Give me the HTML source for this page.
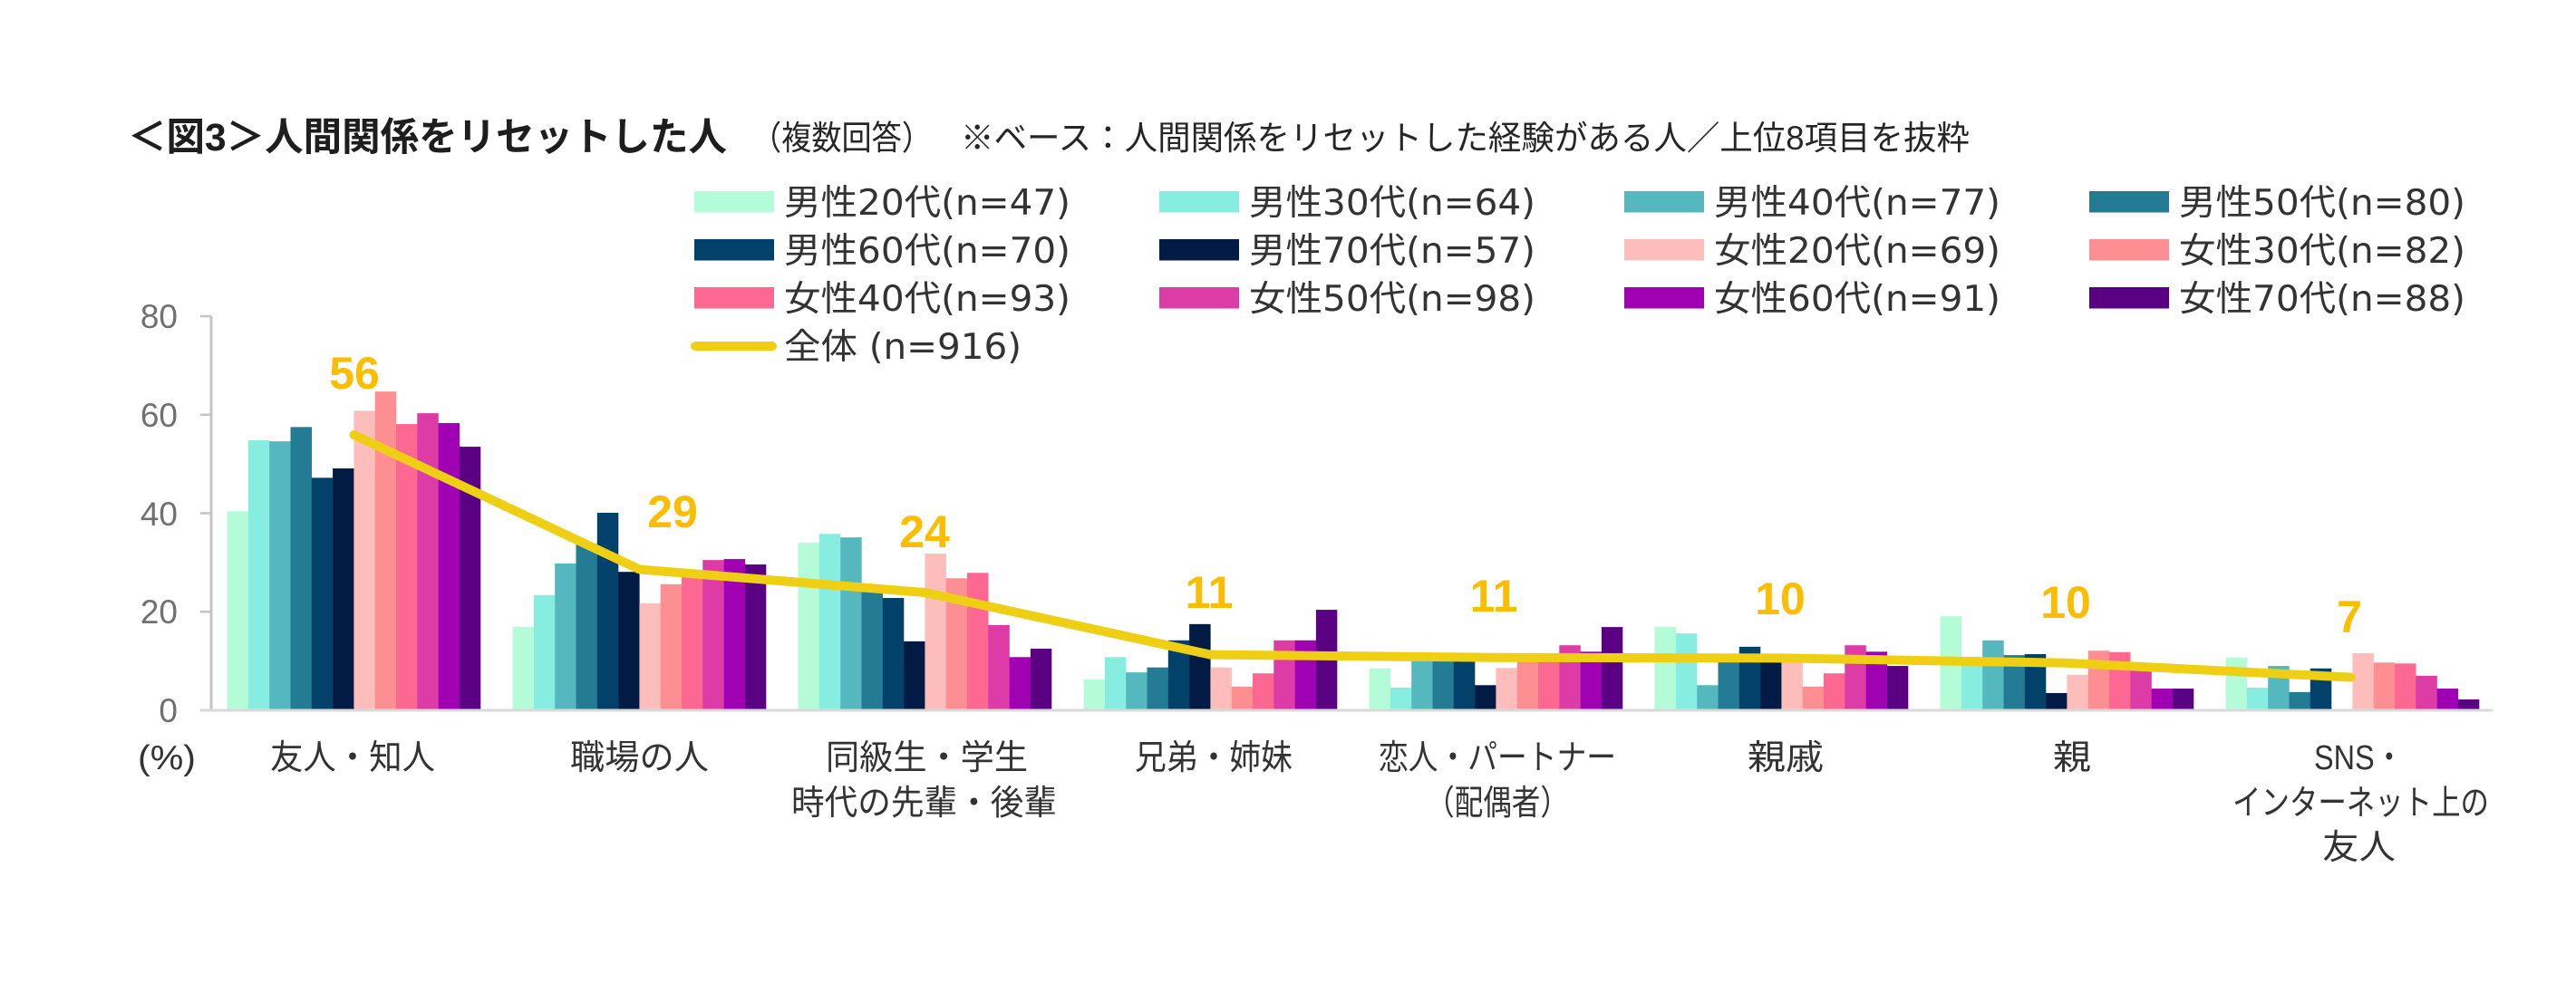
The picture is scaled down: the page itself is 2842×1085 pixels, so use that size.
<!DOCTYPE html>
<html lang="ja">
<head>
<meta charset="utf-8">
<style>
  html,body{margin:0;padding:0;background:#fff;}
  svg{display:block;}
  .c1{fill:#b4fcd8}.c2{fill:#87ede1}.c3{fill:#55b8bf}.c4{fill:#237c93}
  .c5{fill:#02416a}.c6{fill:#011b44}.c7{fill:#fdbdbb}.c8{fill:#fd8f92}
  .c9{fill:#fd6892}.c10{fill:#dd3ca6}.c11{fill:#a002b3}.c12{fill:#590083}
  .leg{font-family:"DejaVu Sans","Noto Sans CJK JP",sans-serif;font-size:39px;fill:#333;}
  .ax{font-family:"Liberation Sans","Noto Sans CJK JP",sans-serif;font-size:38px;fill:#333;}
  .tick{font-family:"Liberation Sans","Noto Sans CJK JP",sans-serif;font-size:37px;fill:#707070;}
  .lab{font-family:"Liberation Sans","Noto Sans CJK JP",sans-serif;font-size:50px;font-weight:bold;fill:#fbbd00;}
  .t1{font-family:"Liberation Sans","Noto Sans CJK JP",sans-serif;font-size:43px;font-weight:bold;fill:#1e1e1e;}
  .t2{font-family:"Liberation Sans","Noto Sans CJK JP",sans-serif;font-size:37px;fill:#262626;}
</style>
</head>
<body>
<svg width="2842" height="1085" viewBox="0 0 2842 1085" xmlns="http://www.w3.org/2000/svg">
  <rect x="0" y="0" width="2842" height="1085" fill="#fff"/>

  <!-- Title -->
  <text class="t1" x="141" y="166" textLength="661" lengthAdjust="spacingAndGlyphs">＜図3＞人間関係をリセットした人</text>
  <text class="t2" x="829" y="165" textLength="199" lengthAdjust="spacingAndGlyphs">（複数回答）</text>
  <text class="t2" x="1060" y="165" textLength="1113" lengthAdjust="spacingAndGlyphs">※ベース：人間関係をリセットした経験がある人／上位8項目を抜粋</text>

  <!-- Legend -->
  <rect class="c1" x="766" y="211" width="88" height="23.5"/>
  <text class="leg" x="865" y="237" textLength="316" lengthAdjust="spacingAndGlyphs">男性20代(n=47)</text>
  <rect class="c2" x="1279" y="211" width="88" height="23.5"/>
  <text class="leg" x="1378" y="237" textLength="316" lengthAdjust="spacingAndGlyphs">男性30代(n=64)</text>
  <rect class="c3" x="1792" y="211" width="88" height="23.5"/>
  <text class="leg" x="1891" y="237" textLength="316" lengthAdjust="spacingAndGlyphs">男性40代(n=77)</text>
  <rect class="c4" x="2305" y="211" width="88" height="23.5"/>
  <text class="leg" x="2404" y="237" textLength="316" lengthAdjust="spacingAndGlyphs">男性50代(n=80)</text>

  <rect class="c5" x="766" y="264" width="88" height="23.5"/>
  <text class="leg" x="865" y="290" textLength="316" lengthAdjust="spacingAndGlyphs">男性60代(n=70)</text>
  <rect class="c6" x="1279" y="264" width="88" height="23.5"/>
  <text class="leg" x="1378" y="290" textLength="316" lengthAdjust="spacingAndGlyphs">男性70代(n=57)</text>
  <rect class="c7" x="1792" y="264" width="88" height="23.5"/>
  <text class="leg" x="1891" y="290" textLength="316" lengthAdjust="spacingAndGlyphs">女性20代(n=69)</text>
  <rect class="c8" x="2305" y="264" width="88" height="23.5"/>
  <text class="leg" x="2404" y="290" textLength="316" lengthAdjust="spacingAndGlyphs">女性30代(n=82)</text>

  <rect class="c9" x="766" y="317" width="88" height="23.5"/>
  <text class="leg" x="865" y="343" textLength="316" lengthAdjust="spacingAndGlyphs">女性40代(n=93)</text>
  <rect class="c10" x="1279" y="317" width="88" height="23.5"/>
  <text class="leg" x="1378" y="343" textLength="316" lengthAdjust="spacingAndGlyphs">女性50代(n=98)</text>
  <rect class="c11" x="1792" y="317" width="88" height="23.5"/>
  <text class="leg" x="1891" y="343" textLength="316" lengthAdjust="spacingAndGlyphs">女性60代(n=91)</text>
  <rect class="c12" x="2305" y="317" width="88" height="23.5"/>
  <text class="leg" x="2404" y="343" textLength="316" lengthAdjust="spacingAndGlyphs">女性70代(n=88)</text>

  <line x1="767" y1="382" x2="852" y2="382" stroke="#efcf14" stroke-width="10" stroke-linecap="round"/>
  <text class="leg" x="865" y="396" textLength="262" lengthAdjust="spacingAndGlyphs">全体 (n=916)</text>

  <!-- Y axis -->
  <line x1="233" y1="349" x2="233" y2="784" stroke="#c4c4c4" stroke-width="3"/>
  <line x1="221" y1="349" x2="233" y2="349" stroke="#c4c4c4" stroke-width="2.5"/>
  <line x1="221" y1="457.75" x2="233" y2="457.75" stroke="#c4c4c4" stroke-width="2.5"/>
  <line x1="221" y1="566.5" x2="233" y2="566.5" stroke="#c4c4c4" stroke-width="2.5"/>
  <line x1="221" y1="675.25" x2="233" y2="675.25" stroke="#c4c4c4" stroke-width="2.5"/>
  <text class="tick" x="196" y="362" text-anchor="end">80</text>
  <text class="tick" x="196" y="471" text-anchor="end">60</text>
  <text class="tick" x="196" y="580" text-anchor="end">40</text>
  <text class="tick" x="196" y="688" text-anchor="end">20</text>
  <text class="tick" x="196" y="797" text-anchor="end">0</text>

  <!-- Bars -->
  <g transform="translate(250.6,784) scale(1,-5.4375)">
    <rect class="c1" x="0" y="0" width="23.5" height="40.4"/>
    <rect class="c2" x="23.3" y="0" width="23.5" height="54.8"/>
    <rect class="c3" x="46.6" y="0" width="23.5" height="54.6"/>
    <rect class="c4" x="69.9" y="0" width="23.5" height="57.5"/>
    <rect class="c5" x="93.2" y="0" width="23.5" height="47.2"/>
    <rect class="c6" x="116.5" y="0" width="23.5" height="49.1"/>
    <rect class="c7" x="139.8" y="0" width="23.5" height="60.8"/>
    <rect class="c8" x="163.1" y="0" width="23.5" height="64.7"/>
    <rect class="c9" x="186.4" y="0" width="23.5" height="58.1"/>
    <rect class="c10" x="209.7" y="0" width="23.5" height="60.3"/>
    <rect class="c11" x="233.0" y="0" width="23.5" height="58.3"/>
    <rect class="c12" x="256.3" y="0" width="23.4" height="53.5"/>
  </g>
  <g transform="translate(565.6,784) scale(1,-5.4375)">
    <rect class="c1" x="0" y="0" width="23.5" height="16.9"/>
    <rect class="c2" x="23.3" y="0" width="23.5" height="23.4"/>
    <rect class="c3" x="46.6" y="0" width="23.5" height="29.8"/>
    <rect class="c4" x="69.9" y="0" width="23.5" height="33.8"/>
    <rect class="c5" x="93.2" y="0" width="23.5" height="40.1"/>
    <rect class="c6" x="116.5" y="0" width="23.5" height="28.1"/>
    <rect class="c7" x="139.8" y="0" width="23.5" height="21.7"/>
    <rect class="c8" x="163.1" y="0" width="23.5" height="25.6"/>
    <rect class="c9" x="186.4" y="0" width="23.5" height="27.1"/>
    <rect class="c10" x="209.7" y="0" width="23.5" height="30.5"/>
    <rect class="c11" x="233.0" y="0" width="23.5" height="30.7"/>
    <rect class="c12" x="256.3" y="0" width="23.4" height="29.6"/>
  </g>
  <g transform="translate(880.6,784) scale(1,-5.4375)">
    <rect class="c1" x="0" y="0" width="23.5" height="34.0"/>
    <rect class="c2" x="23.3" y="0" width="23.5" height="35.8"/>
    <rect class="c3" x="46.6" y="0" width="23.5" height="35.1"/>
    <rect class="c4" x="69.9" y="0" width="23.5" height="24.0"/>
    <rect class="c5" x="93.2" y="0" width="23.5" height="22.8"/>
    <rect class="c6" x="116.5" y="0" width="23.5" height="14.0"/>
    <rect class="c7" x="139.8" y="0" width="23.5" height="31.8"/>
    <rect class="c8" x="163.1" y="0" width="23.5" height="26.8"/>
    <rect class="c9" x="186.4" y="0" width="23.5" height="27.9"/>
    <rect class="c10" x="209.7" y="0" width="23.5" height="17.3"/>
    <rect class="c11" x="233.0" y="0" width="23.5" height="10.8"/>
    <rect class="c12" x="256.3" y="0" width="23.4" height="12.5"/>
  </g>
  <g transform="translate(1195.6,784) scale(1,-5.4375)">
    <rect class="c1" x="0" y="0" width="23.5" height="6.25"/>
    <rect class="c2" x="23.3" y="0" width="23.5" height="10.8"/>
    <rect class="c3" x="46.6" y="0" width="23.5" height="7.7"/>
    <rect class="c4" x="69.9" y="0" width="23.5" height="8.7"/>
    <rect class="c5" x="93.2" y="0" width="23.5" height="14.2"/>
    <rect class="c6" x="116.5" y="0" width="23.5" height="17.5"/>
    <rect class="c7" x="139.8" y="0" width="23.5" height="8.7"/>
    <rect class="c8" x="163.1" y="0" width="23.5" height="4.8"/>
    <rect class="c9" x="186.4" y="0" width="23.5" height="7.5"/>
    <rect class="c10" x="209.7" y="0" width="23.5" height="14.2"/>
    <rect class="c11" x="233.0" y="0" width="23.5" height="14.2"/>
    <rect class="c12" x="256.3" y="0" width="23.4" height="20.4"/>
  </g>
  <g transform="translate(1510.6,784) scale(1,-5.4375)">
    <rect class="c1" x="0" y="0" width="23.5" height="8.5"/>
    <rect class="c2" x="23.3" y="0" width="23.5" height="4.6"/>
    <rect class="c3" x="46.6" y="0" width="23.5" height="10.4"/>
    <rect class="c4" x="69.9" y="0" width="23.5" height="10.2"/>
    <rect class="c5" x="93.2" y="0" width="23.5" height="10.2"/>
    <rect class="c6" x="116.5" y="0" width="23.5" height="5.1"/>
    <rect class="c7" x="139.8" y="0" width="23.5" height="8.6"/>
    <rect class="c8" x="163.1" y="0" width="23.5" height="10.2"/>
    <rect class="c9" x="186.4" y="0" width="23.5" height="10.2"/>
    <rect class="c10" x="209.7" y="0" width="23.5" height="13.2"/>
    <rect class="c11" x="233.0" y="0" width="23.5" height="11.9"/>
    <rect class="c12" x="256.3" y="0" width="23.4" height="16.9"/>
  </g>
  <g transform="translate(1825.6,784) scale(1,-5.4375)">
    <rect class="c1" x="0" y="0" width="23.5" height="16.9"/>
    <rect class="c2" x="23.3" y="0" width="23.5" height="15.6"/>
    <rect class="c3" x="46.6" y="0" width="23.5" height="5.1"/>
    <rect class="c4" x="69.9" y="0" width="23.5" height="10.6"/>
    <rect class="c5" x="93.2" y="0" width="23.5" height="12.9"/>
    <rect class="c6" x="116.5" y="0" width="23.5" height="10.6"/>
    <rect class="c7" x="139.8" y="0" width="23.5" height="10.4"/>
    <rect class="c8" x="163.1" y="0" width="23.5" height="4.8"/>
    <rect class="c9" x="186.4" y="0" width="23.5" height="7.5"/>
    <rect class="c10" x="209.7" y="0" width="23.5" height="13.2"/>
    <rect class="c11" x="233.0" y="0" width="23.5" height="11.9"/>
    <rect class="c12" x="256.3" y="0" width="23.4" height="9.0"/>
  </g>
  <g transform="translate(2140.6,784) scale(1,-5.4375)">
    <rect class="c1" x="0" y="0" width="23.5" height="19.1"/>
    <rect class="c2" x="23.3" y="0" width="23.5" height="10.5"/>
    <rect class="c3" x="46.6" y="0" width="23.5" height="14.2"/>
    <rect class="c4" x="69.9" y="0" width="23.5" height="11.2"/>
    <rect class="c5" x="93.2" y="0" width="23.5" height="11.4"/>
    <rect class="c6" x="116.5" y="0" width="23.5" height="3.5"/>
    <rect class="c7" x="139.8" y="0" width="23.5" height="7.2"/>
    <rect class="c8" x="163.1" y="0" width="23.5" height="12.1"/>
    <rect class="c9" x="186.4" y="0" width="23.5" height="11.8"/>
    <rect class="c10" x="209.7" y="0" width="23.5" height="8.3"/>
    <rect class="c11" x="233.0" y="0" width="23.5" height="4.4"/>
    <rect class="c12" x="256.3" y="0" width="23.4" height="4.4"/>
  </g>
  <g transform="translate(2455.6,784) scale(1,-5.4375)">
    <rect class="c1" x="0" y="0" width="23.5" height="10.7"/>
    <rect class="c2" x="23.3" y="0" width="23.5" height="4.6"/>
    <rect class="c3" x="46.6" y="0" width="23.5" height="9.0"/>
    <rect class="c4" x="69.9" y="0" width="23.5" height="3.7"/>
    <rect class="c5" x="93.2" y="0" width="23.5" height="8.5"/>
    <rect class="c7" x="139.8" y="0" width="23.5" height="11.6"/>
    <rect class="c8" x="163.1" y="0" width="23.5" height="9.7"/>
    <rect class="c9" x="186.4" y="0" width="23.5" height="9.5"/>
    <rect class="c10" x="209.7" y="0" width="23.5" height="7.0"/>
    <rect class="c11" x="233.0" y="0" width="23.5" height="4.4"/>
    <rect class="c12" x="256.3" y="0" width="23.4" height="2.2"/>
  </g>

  <!-- X baseline -->
  <line x1="221" y1="784" x2="2750" y2="784" stroke="#d9d9d9" stroke-width="3"/>

  <!-- Overall line -->
  <polyline points="390.5,480 705.5,628.5 1020.5,654 1335.5,722.6 1650.5,725.8 1965.5,726.4 2280.5,731.8 2593.5,747.6"
            fill="none" stroke="#efcf14" stroke-width="10" stroke-linecap="round" stroke-linejoin="round"/>

  <!-- Data labels -->
  <text class="lab" x="391" y="429" text-anchor="middle">56</text>
  <text class="lab" x="742" y="582" text-anchor="middle">29</text>
  <text class="lab" x="1020" y="604" text-anchor="middle">24</text>
  <text class="lab" x="1334" y="671" text-anchor="middle">11</text>
  <text class="lab" x="1648" y="675" text-anchor="middle">11</text>
  <text class="lab" x="1964" y="678" text-anchor="middle">10</text>
  <text class="lab" x="2279" y="682" text-anchor="middle">10</text>
  <text class="lab" x="2592" y="698" text-anchor="middle">7</text>

  <!-- X axis labels -->
  <text class="ax" x="152" y="849" textLength="64" lengthAdjust="spacingAndGlyphs">(%)</text>
  <text class="ax" x="298" y="849" textLength="182" lengthAdjust="spacingAndGlyphs">友人・知人</text>
  <text class="ax" x="629" y="849" textLength="153" lengthAdjust="spacingAndGlyphs">職場の人</text>
  <text class="ax" x="911" y="849" textLength="223" lengthAdjust="spacingAndGlyphs">同級生・学生</text>
  <text class="ax" x="873" y="899" textLength="293" lengthAdjust="spacingAndGlyphs">時代の先輩・後輩</text>
  <text class="ax" x="1252" y="849" textLength="174" lengthAdjust="spacingAndGlyphs">兄弟・姉妹</text>
  <text class="ax" x="1521" y="849" textLength="262" lengthAdjust="spacingAndGlyphs">恋人・パートナー</text>
  <text class="ax" x="1573" y="899" textLength="158" lengthAdjust="spacingAndGlyphs">（配偶者）</text>
  <text class="ax" x="1928" y="849" textLength="84" lengthAdjust="spacingAndGlyphs">親戚</text>
  <text class="ax" x="2265" y="849" textLength="42" lengthAdjust="spacingAndGlyphs">親</text>
  <text class="ax" x="2553" y="849" textLength="99" lengthAdjust="spacingAndGlyphs">SNS・</text>
  <text class="ax" x="2463" y="899" textLength="283" lengthAdjust="spacingAndGlyphs">インターネット上の</text>
  <text class="ax" x="2562" y="948" textLength="81" lengthAdjust="spacingAndGlyphs">友人</text>
</svg>
</body>
</html>
